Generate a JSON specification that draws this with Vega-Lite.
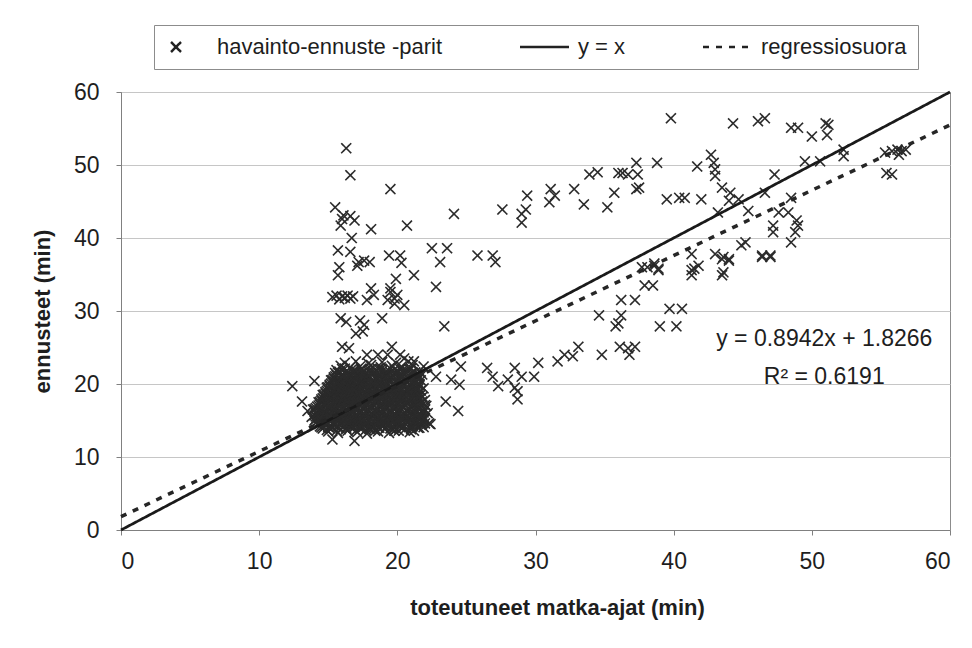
{
  "$schema": "https://vega.github.io/schema/vega-lite/v6.json",
  "width": 829,
  "height": 438,
  "autosize": {"type": "none"},
  "padding": {"left": 121, "top": 92, "right": 22, "bottom": 118},
  "background": "white",
  "config": {
    "font": "Liberation Sans",
    "view": {"stroke": "#8c8c8c", "strokeWidth": 1},
    "axis": {
      "labelFont": "Liberation Sans",
      "labelFontSize": 23,
      "labelColor": "#1e1e1e",
      "titleFont": "Liberation Sans",
      "titleFontSize": 22,
      "titleFontWeight": "bold",
      "titleColor": "#1e1e1e",
      "domainColor": "#808080",
      "tickColor": "#808080",
      "tickSize": 5,
      "gridColor": "#c6c6c6",
      "gridWidth": 1
    },
    "legend": {
      "orient": "none",
      "legendX": 33,
      "legendY": -67,
      "direction": "horizontal",
      "padding": 11,
      "strokeColor": "#8c8c8c",
      "fillColor": "white",
      "labelFont": "Liberation Sans",
      "labelFontSize": 22,
      "labelColor": "#1e1e1e",
      "labelLimit": 0,
      "labelOffset": 30,
      "columnPadding": 72,
      "symbolSize": 100,
      "symbolStrokeWidth": 2.5,
      "symbolStrokeColor": "#222222",
      "symbolFillColor": "transparent"
    }
  },
  "datasets": {
    "pairs": [
      {"x": 16.3, "y": 52.3}, {"x": 16.6, "y": 48.6}, {"x": 19.5, "y": 46.7}, {"x": 15.5, "y": 44.2},
      {"x": 16.1, "y": 43.1}, {"x": 16.6, "y": 43.0}, {"x": 16.9, "y": 42.4}, {"x": 15.9, "y": 41.7},
      {"x": 16.0, "y": 42.6}, {"x": 18.1, "y": 41.2}, {"x": 20.7, "y": 41.7}, {"x": 16.7, "y": 40.0},
      {"x": 15.7, "y": 38.3}, {"x": 16.6, "y": 38.1}, {"x": 17.2, "y": 36.7}, {"x": 17.6, "y": 36.9},
      {"x": 18.0, "y": 36.7}, {"x": 17.1, "y": 36.2}, {"x": 19.4, "y": 37.6}, {"x": 20.2, "y": 37.6},
      {"x": 20.3, "y": 36.6}, {"x": 15.8, "y": 36.0}, {"x": 15.7, "y": 34.9}, {"x": 19.9, "y": 34.4},
      {"x": 21.2, "y": 34.9}, {"x": 15.3, "y": 31.9}, {"x": 15.6, "y": 32.1}, {"x": 15.8, "y": 31.6},
      {"x": 16.0, "y": 32.0}, {"x": 16.2, "y": 31.8}, {"x": 16.4, "y": 32.1}, {"x": 16.6, "y": 31.7},
      {"x": 16.8, "y": 32.0}, {"x": 18.1, "y": 33.1}, {"x": 18.3, "y": 32.2}, {"x": 17.8, "y": 31.5},
      {"x": 19.5, "y": 33.1}, {"x": 19.5, "y": 32.6}, {"x": 20.0, "y": 32.2}, {"x": 19.3, "y": 31.5},
      {"x": 19.8, "y": 31.7}, {"x": 20.5, "y": 30.8}, {"x": 19.8, "y": 31.0}, {"x": 15.9, "y": 29.0},
      {"x": 16.3, "y": 28.5}, {"x": 17.3, "y": 28.7}, {"x": 17.6, "y": 28.1}, {"x": 17.0, "y": 26.9},
      {"x": 17.5, "y": 27.2}, {"x": 18.9, "y": 29.0}, {"x": 16.0, "y": 25.1}, {"x": 16.5, "y": 24.9},
      {"x": 17.8, "y": 24.0}, {"x": 18.6, "y": 24.0}, {"x": 19.3, "y": 24.0}, {"x": 19.6, "y": 25.1},
      {"x": 20.2, "y": 24.0}, {"x": 20.5, "y": 23.5}, {"x": 21.2, "y": 23.1}, {"x": 12.4, "y": 19.7},
      {"x": 14.0, "y": 20.4}, {"x": 13.1, "y": 17.6}, {"x": 13.5, "y": 16.3}, {"x": 15.3, "y": 12.4},
      {"x": 16.9, "y": 12.2}, {"x": 19.8, "y": 13.6}, {"x": 18.3, "y": 13.8}, {"x": 22.8, "y": 33.3},
      {"x": 22.5, "y": 38.6}, {"x": 23.6, "y": 38.6}, {"x": 23.1, "y": 36.7}, {"x": 25.8, "y": 37.6},
      {"x": 26.9, "y": 37.6}, {"x": 27.1, "y": 36.7}, {"x": 23.4, "y": 27.9}, {"x": 24.1, "y": 43.3},
      {"x": 27.6, "y": 43.9}, {"x": 29.0, "y": 43.3}, {"x": 29.0, "y": 42.1}, {"x": 29.3, "y": 43.9},
      {"x": 29.4, "y": 45.8}, {"x": 31.1, "y": 46.7}, {"x": 31.4, "y": 45.8}, {"x": 31.0, "y": 44.9},
      {"x": 32.8, "y": 46.7}, {"x": 33.5, "y": 44.6}, {"x": 33.9, "y": 48.7}, {"x": 34.5, "y": 49.0},
      {"x": 35.2, "y": 44.2}, {"x": 35.7, "y": 46.2}, {"x": 36.0, "y": 48.9}, {"x": 36.3, "y": 48.9},
      {"x": 36.7, "y": 48.7}, {"x": 37.3, "y": 50.3}, {"x": 37.4, "y": 48.7}, {"x": 37.3, "y": 46.7},
      {"x": 37.5, "y": 46.9}, {"x": 38.8, "y": 50.3}, {"x": 39.5, "y": 45.3}, {"x": 40.4, "y": 45.5},
      {"x": 39.8, "y": 56.4}, {"x": 21.9, "y": 22.4}, {"x": 22.8, "y": 21.0}, {"x": 23.9, "y": 20.6},
      {"x": 24.6, "y": 22.4}, {"x": 24.5, "y": 19.9}, {"x": 23.5, "y": 17.6}, {"x": 24.4, "y": 16.3},
      {"x": 22.4, "y": 14.5}, {"x": 26.5, "y": 22.2}, {"x": 26.9, "y": 21.0}, {"x": 27.3, "y": 19.7},
      {"x": 28.0, "y": 20.6}, {"x": 28.5, "y": 22.2}, {"x": 28.7, "y": 19.0}, {"x": 29.0, "y": 21.0},
      {"x": 28.5, "y": 19.5}, {"x": 29.9, "y": 21.0}, {"x": 30.2, "y": 22.9}, {"x": 28.7, "y": 17.9},
      {"x": 31.6, "y": 23.1}, {"x": 32.1, "y": 24.0}, {"x": 32.7, "y": 23.8}, {"x": 33.1, "y": 25.1},
      {"x": 34.8, "y": 24.0}, {"x": 36.1, "y": 25.1}, {"x": 36.7, "y": 24.9}, {"x": 37.2, "y": 25.1},
      {"x": 36.8, "y": 24.0}, {"x": 34.6, "y": 29.4}, {"x": 36.2, "y": 29.4}, {"x": 35.8, "y": 27.9},
      {"x": 36.0, "y": 28.3}, {"x": 36.2, "y": 31.5}, {"x": 37.2, "y": 31.5}, {"x": 39.0, "y": 27.9},
      {"x": 40.2, "y": 27.9}, {"x": 39.7, "y": 30.3}, {"x": 40.6, "y": 30.3}, {"x": 37.9, "y": 33.5},
      {"x": 38.5, "y": 33.5}, {"x": 37.7, "y": 36.0}, {"x": 38.6, "y": 36.5}, {"x": 38.9, "y": 35.6},
      {"x": 38.1, "y": 36.0}, {"x": 38.6, "y": 36.2}, {"x": 38.9, "y": 35.8}, {"x": 44.3, "y": 55.7},
      {"x": 46.1, "y": 56.0}, {"x": 46.6, "y": 56.4}, {"x": 48.5, "y": 55.1}, {"x": 49.0, "y": 55.1},
      {"x": 50.0, "y": 53.9}, {"x": 51.0, "y": 55.7}, {"x": 51.2, "y": 55.5}, {"x": 51.1, "y": 54.1},
      {"x": 52.3, "y": 52.1}, {"x": 52.3, "y": 51.2}, {"x": 49.5, "y": 50.5}, {"x": 50.6, "y": 50.5},
      {"x": 55.3, "y": 51.7}, {"x": 55.8, "y": 51.9}, {"x": 56.2, "y": 52.1}, {"x": 56.5, "y": 51.9},
      {"x": 56.8, "y": 52.1}, {"x": 56.3, "y": 51.4}, {"x": 55.4, "y": 48.9}, {"x": 55.8, "y": 48.7},
      {"x": 41.7, "y": 49.8}, {"x": 42.7, "y": 51.4}, {"x": 42.9, "y": 50.3}, {"x": 43.0, "y": 49.4},
      {"x": 43.0, "y": 48.5}, {"x": 40.8, "y": 45.5}, {"x": 42.0, "y": 45.3}, {"x": 43.5, "y": 46.9},
      {"x": 44.1, "y": 46.2}, {"x": 44.7, "y": 45.3}, {"x": 44.0, "y": 45.1}, {"x": 43.2, "y": 43.5},
      {"x": 45.4, "y": 43.7}, {"x": 46.6, "y": 46.2}, {"x": 47.3, "y": 48.7}, {"x": 48.5, "y": 45.5},
      {"x": 47.6, "y": 43.5}, {"x": 48.3, "y": 43.5}, {"x": 48.9, "y": 42.4}, {"x": 49.0, "y": 41.7},
      {"x": 48.8, "y": 40.8}, {"x": 48.5, "y": 39.4}, {"x": 47.2, "y": 41.7}, {"x": 47.2, "y": 40.8},
      {"x": 45.2, "y": 39.4}, {"x": 44.9, "y": 39.0}, {"x": 43.0, "y": 37.8}, {"x": 43.5, "y": 37.1},
      {"x": 44.0, "y": 37.1}, {"x": 46.4, "y": 37.6}, {"x": 47.0, "y": 37.6}, {"x": 41.3, "y": 37.8},
      {"x": 41.8, "y": 36.2}, {"x": 41.3, "y": 35.6}, {"x": 43.6, "y": 35.3}, {"x": 41.5, "y": 35.8},
      {"x": 41.3, "y": 34.9}, {"x": 43.6, "y": 37.4}, {"x": 44.0, "y": 36.9}, {"x": 43.5, "y": 34.9},
      {"x": 46.4, "y": 37.4}, {"x": 47.0, "y": 37.4},
      {"x": 15.0, "y": 13.5}, {"x": 15.7, "y": 13.3}, {"x": 16.4, "y": 13.6}, {"x": 17.1, "y": 13.4},
      {"x": 17.8, "y": 13.2}, {"x": 18.6, "y": 13.5}, {"x": 19.4, "y": 13.3}, {"x": 20.1, "y": 13.6},
      {"x": 20.9, "y": 13.4},
      {"x": 14.9, "y": 13.7}, {"x": 15.6, "y": 13.6}, {"x": 16.3, "y": 13.8}, {"x": 17.0, "y": 13.6},
      {"x": 17.7, "y": 13.7}, {"x": 18.4, "y": 13.6}, {"x": 19.1, "y": 13.8}, {"x": 19.8, "y": 13.6},
      {"x": 20.5, "y": 13.7}, {"x": 21.2, "y": 13.6},
      {"x": 14.6, "y": 13.9}, {"x": 15.3, "y": 14.0}, {"x": 15.9, "y": 13.8}, {"x": 16.6, "y": 14.1},
      {"x": 17.3, "y": 13.9}, {"x": 18.0, "y": 13.8}, {"x": 18.7, "y": 14.0}, {"x": 19.5, "y": 13.9},
      {"x": 20.2, "y": 14.1}, {"x": 21.0, "y": 13.8}, {"x": 21.6, "y": 14.0},
      {"x": 14.5, "y": 14.05}, {"x": 15.1, "y": 14.0}, {"x": 15.7, "y": 14.1}, {"x": 16.3, "y": 14.0},
      {"x": 16.8, "y": 14.05}, {"x": 17.4, "y": 14.1}, {"x": 18.0, "y": 14.0}, {"x": 18.6, "y": 14.05},
      {"x": 19.2, "y": 14.1}, {"x": 19.8, "y": 14.0}, {"x": 20.4, "y": 14.05}, {"x": 21.0, "y": 14.1},
      {"x": 21.5, "y": 14.0},
      {"x": 14.4, "y": 14.2}, {"x": 15.0, "y": 14.1}, {"x": 15.6, "y": 14.2}, {"x": 16.2, "y": 14.3},
      {"x": 16.9, "y": 14.1}, {"x": 17.6, "y": 14.2}, {"x": 18.3, "y": 14.1}, {"x": 19.0, "y": 14.3},
      {"x": 19.7, "y": 14.2}, {"x": 20.4, "y": 14.1}, {"x": 21.1, "y": 14.2}, {"x": 21.9, "y": 14.1},
      {"x": 14.2, "y": 14.5}, {"x": 14.8, "y": 14.3}, {"x": 15.4, "y": 14.4}, {"x": 15.9, "y": 14.6},
      {"x": 16.5, "y": 14.3}, {"x": 17.0, "y": 14.5}, {"x": 17.6, "y": 14.4}, {"x": 18.2, "y": 14.2},
      {"x": 18.8, "y": 14.5}, {"x": 19.3, "y": 14.4}, {"x": 19.9, "y": 14.6}, {"x": 20.5, "y": 14.3},
      {"x": 21.1, "y": 14.5}, {"x": 21.7, "y": 14.4}, {"x": 22.3, "y": 14.6},
      {"x": 14.3, "y": 14.55}, {"x": 14.8, "y": 14.5}, {"x": 15.3, "y": 14.6}, {"x": 15.8, "y": 14.5},
      {"x": 16.3, "y": 14.55}, {"x": 16.8, "y": 14.6}, {"x": 17.3, "y": 14.5}, {"x": 17.8, "y": 14.55},
      {"x": 18.4, "y": 14.6}, {"x": 18.9, "y": 14.5}, {"x": 19.4, "y": 14.55}, {"x": 20.0, "y": 14.6},
      {"x": 20.6, "y": 14.5}, {"x": 21.2, "y": 14.55}, {"x": 21.8, "y": 14.6},
      {"x": 14.4, "y": 14.7}, {"x": 14.9, "y": 14.6}, {"x": 15.4, "y": 14.8}, {"x": 15.9, "y": 14.7},
      {"x": 16.5, "y": 14.6}, {"x": 17.0, "y": 14.8}, {"x": 17.5, "y": 14.6}, {"x": 18.1, "y": 14.7},
      {"x": 18.6, "y": 14.8}, {"x": 19.1, "y": 14.6}, {"x": 19.7, "y": 14.7}, {"x": 20.2, "y": 14.6},
      {"x": 20.8, "y": 14.8}, {"x": 21.4, "y": 14.7}, {"x": 22.0, "y": 14.6},
      {"x": 14.0, "y": 15.0}, {"x": 14.5, "y": 14.8}, {"x": 15.1, "y": 14.9}, {"x": 15.6, "y": 15.1},
      {"x": 16.1, "y": 14.8}, {"x": 16.7, "y": 15.0}, {"x": 17.2, "y": 14.9}, {"x": 17.8, "y": 14.7},
      {"x": 18.3, "y": 15.0}, {"x": 18.9, "y": 14.9}, {"x": 19.4, "y": 15.1}, {"x": 20.0, "y": 14.8},
      {"x": 20.6, "y": 15.0}, {"x": 21.2, "y": 14.9}, {"x": 21.8, "y": 15.1},
      {"x": 14.3, "y": 15.05}, {"x": 14.8, "y": 15.0}, {"x": 15.3, "y": 15.1}, {"x": 15.8, "y": 15.0},
      {"x": 16.3, "y": 15.05}, {"x": 16.8, "y": 15.1}, {"x": 17.3, "y": 15.0}, {"x": 17.9, "y": 15.05},
      {"x": 18.4, "y": 15.1}, {"x": 19.0, "y": 15.0}, {"x": 19.5, "y": 15.05}, {"x": 20.1, "y": 15.1},
      {"x": 20.7, "y": 15.0}, {"x": 21.3, "y": 15.05}, {"x": 21.9, "y": 15.1},
      {"x": 14.1, "y": 15.2}, {"x": 14.6, "y": 15.1}, {"x": 15.1, "y": 15.3}, {"x": 15.6, "y": 15.2},
      {"x": 16.1, "y": 15.1}, {"x": 16.6, "y": 15.3}, {"x": 17.1, "y": 15.1}, {"x": 17.6, "y": 15.2},
      {"x": 18.1, "y": 15.3}, {"x": 18.7, "y": 15.1}, {"x": 19.2, "y": 15.2}, {"x": 19.8, "y": 15.1},
      {"x": 20.4, "y": 15.3}, {"x": 21.0, "y": 15.2}, {"x": 21.6, "y": 15.1},
      {"x": 13.8, "y": 15.5}, {"x": 14.3, "y": 15.3}, {"x": 14.8, "y": 15.4}, {"x": 15.3, "y": 15.6},
      {"x": 15.8, "y": 15.3}, {"x": 16.3, "y": 15.5}, {"x": 16.9, "y": 15.4}, {"x": 17.4, "y": 15.2},
      {"x": 17.9, "y": 15.5}, {"x": 18.5, "y": 15.4}, {"x": 19.1, "y": 15.6}, {"x": 19.6, "y": 15.3},
      {"x": 20.2, "y": 15.5}, {"x": 20.8, "y": 15.4}, {"x": 21.4, "y": 15.6}, {"x": 22.0, "y": 15.3},
      {"x": 14.1, "y": 15.55}, {"x": 14.6, "y": 15.5}, {"x": 15.1, "y": 15.6}, {"x": 15.6, "y": 15.5},
      {"x": 16.1, "y": 15.55}, {"x": 16.7, "y": 15.6}, {"x": 17.2, "y": 15.5}, {"x": 17.7, "y": 15.55},
      {"x": 18.3, "y": 15.6}, {"x": 18.8, "y": 15.5}, {"x": 19.4, "y": 15.55}, {"x": 20.0, "y": 15.6},
      {"x": 20.6, "y": 15.5}, {"x": 21.2, "y": 15.55}, {"x": 21.8, "y": 15.6},
      {"x": 14.0, "y": 15.7}, {"x": 14.5, "y": 15.6}, {"x": 15.0, "y": 15.8}, {"x": 15.5, "y": 15.7},
      {"x": 16.0, "y": 15.6}, {"x": 16.6, "y": 15.8}, {"x": 17.1, "y": 15.6}, {"x": 17.6, "y": 15.7},
      {"x": 18.2, "y": 15.8}, {"x": 18.7, "y": 15.6}, {"x": 19.3, "y": 15.7}, {"x": 19.9, "y": 15.6},
      {"x": 20.5, "y": 15.8}, {"x": 21.1, "y": 15.7}, {"x": 21.7, "y": 15.6},
      {"x": 14.1, "y": 15.9}, {"x": 14.6, "y": 16.1}, {"x": 15.1, "y": 15.8}, {"x": 15.6, "y": 16.0},
      {"x": 16.0, "y": 15.9}, {"x": 16.5, "y": 16.1}, {"x": 17.0, "y": 15.8}, {"x": 17.6, "y": 16.0},
      {"x": 18.1, "y": 15.9}, {"x": 18.7, "y": 16.1}, {"x": 19.2, "y": 15.8}, {"x": 19.8, "y": 16.0},
      {"x": 20.4, "y": 15.9}, {"x": 21.0, "y": 16.1}, {"x": 21.6, "y": 15.8}, {"x": 22.2, "y": 16.0},
      {"x": 14.2, "y": 16.05}, {"x": 14.7, "y": 16.0}, {"x": 15.2, "y": 16.1}, {"x": 15.7, "y": 16.0},
      {"x": 16.2, "y": 16.05}, {"x": 16.7, "y": 16.1}, {"x": 17.2, "y": 16.0}, {"x": 17.8, "y": 16.05},
      {"x": 18.3, "y": 16.1}, {"x": 18.9, "y": 16.0}, {"x": 19.4, "y": 16.05}, {"x": 20.0, "y": 16.1},
      {"x": 20.6, "y": 16.0}, {"x": 21.2, "y": 16.05}, {"x": 21.8, "y": 16.1},
      {"x": 14.3, "y": 16.2}, {"x": 14.8, "y": 16.1}, {"x": 15.3, "y": 16.3}, {"x": 15.8, "y": 16.2},
      {"x": 16.3, "y": 16.1}, {"x": 16.8, "y": 16.3}, {"x": 17.3, "y": 16.1}, {"x": 17.8, "y": 16.2},
      {"x": 18.4, "y": 16.3}, {"x": 18.9, "y": 16.1}, {"x": 19.5, "y": 16.2}, {"x": 20.1, "y": 16.1},
      {"x": 20.7, "y": 16.3}, {"x": 21.3, "y": 16.2}, {"x": 21.9, "y": 16.1},
      {"x": 13.9, "y": 16.5}, {"x": 14.4, "y": 16.3}, {"x": 14.9, "y": 16.4}, {"x": 15.4, "y": 16.6},
      {"x": 15.9, "y": 16.3}, {"x": 16.3, "y": 16.5}, {"x": 16.8, "y": 16.4}, {"x": 17.3, "y": 16.2},
      {"x": 17.9, "y": 16.5}, {"x": 18.4, "y": 16.4}, {"x": 18.9, "y": 16.6}, {"x": 19.5, "y": 16.3},
      {"x": 20.1, "y": 16.5}, {"x": 20.7, "y": 16.4}, {"x": 21.3, "y": 16.6}, {"x": 21.9, "y": 16.3},
      {"x": 14.0, "y": 16.55}, {"x": 14.5, "y": 16.5}, {"x": 15.0, "y": 16.6}, {"x": 15.5, "y": 16.5},
      {"x": 16.0, "y": 16.55}, {"x": 16.5, "y": 16.6}, {"x": 17.0, "y": 16.5}, {"x": 17.5, "y": 16.55},
      {"x": 18.0, "y": 16.6}, {"x": 18.6, "y": 16.5}, {"x": 19.1, "y": 16.55}, {"x": 19.7, "y": 16.6},
      {"x": 20.3, "y": 16.5}, {"x": 20.9, "y": 16.55}, {"x": 21.5, "y": 16.6}, {"x": 22.0, "y": 16.5},
      {"x": 14.1, "y": 16.7}, {"x": 14.6, "y": 16.6}, {"x": 15.1, "y": 16.8}, {"x": 15.6, "y": 16.7},
      {"x": 16.1, "y": 16.6}, {"x": 16.6, "y": 16.8}, {"x": 17.1, "y": 16.6}, {"x": 17.6, "y": 16.7},
      {"x": 18.1, "y": 16.8}, {"x": 18.6, "y": 16.6}, {"x": 19.2, "y": 16.7}, {"x": 19.8, "y": 16.6},
      {"x": 20.4, "y": 16.8}, {"x": 21.0, "y": 16.7}, {"x": 21.6, "y": 16.6},
      {"x": 14.2, "y": 16.9}, {"x": 14.7, "y": 17.1}, {"x": 15.2, "y": 16.8}, {"x": 15.7, "y": 17.0},
      {"x": 16.1, "y": 16.9}, {"x": 16.6, "y": 17.1}, {"x": 17.1, "y": 16.8}, {"x": 17.6, "y": 17.0},
      {"x": 18.2, "y": 16.9}, {"x": 18.7, "y": 17.1}, {"x": 19.3, "y": 16.8}, {"x": 19.8, "y": 17.0},
      {"x": 20.4, "y": 16.9}, {"x": 21.0, "y": 17.1}, {"x": 21.6, "y": 16.8}, {"x": 22.1, "y": 17.0},
      {"x": 14.3, "y": 17.05}, {"x": 14.8, "y": 17.0}, {"x": 15.3, "y": 17.1}, {"x": 15.8, "y": 17.0},
      {"x": 16.3, "y": 17.05}, {"x": 16.8, "y": 17.1}, {"x": 17.3, "y": 17.0}, {"x": 17.8, "y": 17.05},
      {"x": 18.3, "y": 17.1}, {"x": 18.9, "y": 17.0}, {"x": 19.4, "y": 17.05}, {"x": 20.0, "y": 17.1},
      {"x": 20.6, "y": 17.0}, {"x": 21.2, "y": 17.05}, {"x": 21.8, "y": 17.1},
      {"x": 14.4, "y": 17.2}, {"x": 14.9, "y": 17.1}, {"x": 15.4, "y": 17.3}, {"x": 15.9, "y": 17.2},
      {"x": 16.4, "y": 17.1}, {"x": 16.9, "y": 17.3}, {"x": 17.4, "y": 17.1}, {"x": 17.9, "y": 17.2},
      {"x": 18.5, "y": 17.3}, {"x": 19.0, "y": 17.1}, {"x": 19.6, "y": 17.2}, {"x": 20.2, "y": 17.1},
      {"x": 20.8, "y": 17.3}, {"x": 21.4, "y": 17.2}, {"x": 22.0, "y": 17.1},
      {"x": 14.3, "y": 17.5}, {"x": 14.8, "y": 17.3}, {"x": 15.3, "y": 17.4}, {"x": 15.8, "y": 17.6},
      {"x": 16.2, "y": 17.3}, {"x": 16.7, "y": 17.5}, {"x": 17.2, "y": 17.4}, {"x": 17.8, "y": 17.2},
      {"x": 18.3, "y": 17.5}, {"x": 18.9, "y": 17.4}, {"x": 19.4, "y": 17.6}, {"x": 20.0, "y": 17.3},
      {"x": 20.6, "y": 17.5}, {"x": 21.2, "y": 17.4}, {"x": 21.8, "y": 17.6},
      {"x": 14.4, "y": 17.55}, {"x": 14.9, "y": 17.5}, {"x": 15.4, "y": 17.6}, {"x": 15.9, "y": 17.5},
      {"x": 16.4, "y": 17.55}, {"x": 16.9, "y": 17.6}, {"x": 17.4, "y": 17.5}, {"x": 17.9, "y": 17.55},
      {"x": 18.5, "y": 17.6}, {"x": 19.0, "y": 17.5}, {"x": 19.6, "y": 17.55}, {"x": 20.2, "y": 17.6},
      {"x": 20.8, "y": 17.5}, {"x": 21.4, "y": 17.55},
      {"x": 14.5, "y": 17.7}, {"x": 15.0, "y": 17.6}, {"x": 15.5, "y": 17.8}, {"x": 16.0, "y": 17.7},
      {"x": 16.5, "y": 17.6}, {"x": 17.0, "y": 17.8}, {"x": 17.5, "y": 17.6}, {"x": 18.0, "y": 17.7},
      {"x": 18.6, "y": 17.8}, {"x": 19.1, "y": 17.6}, {"x": 19.7, "y": 17.7}, {"x": 20.3, "y": 17.6},
      {"x": 20.9, "y": 17.8}, {"x": 21.5, "y": 17.7},
      {"x": 14.5, "y": 17.9}, {"x": 15.0, "y": 18.1}, {"x": 15.5, "y": 17.8}, {"x": 15.9, "y": 18.0},
      {"x": 16.4, "y": 17.9}, {"x": 16.9, "y": 18.1}, {"x": 17.4, "y": 17.8}, {"x": 17.9, "y": 18.0},
      {"x": 18.5, "y": 17.9}, {"x": 19.0, "y": 18.1}, {"x": 19.6, "y": 17.8}, {"x": 20.2, "y": 18.0},
      {"x": 20.8, "y": 17.9}, {"x": 21.4, "y": 18.1}, {"x": 22.0, "y": 17.8},
      {"x": 14.6, "y": 18.05}, {"x": 15.1, "y": 18.0}, {"x": 15.6, "y": 18.1}, {"x": 16.1, "y": 18.0},
      {"x": 16.6, "y": 18.05}, {"x": 17.1, "y": 18.1}, {"x": 17.6, "y": 18.0}, {"x": 18.1, "y": 18.05},
      {"x": 18.7, "y": 18.1}, {"x": 19.2, "y": 18.0}, {"x": 19.8, "y": 18.05}, {"x": 20.4, "y": 18.1},
      {"x": 21.0, "y": 18.0}, {"x": 21.6, "y": 18.05},
      {"x": 14.7, "y": 18.2}, {"x": 15.2, "y": 18.1}, {"x": 15.7, "y": 18.3}, {"x": 16.2, "y": 18.2},
      {"x": 16.7, "y": 18.1}, {"x": 17.2, "y": 18.3}, {"x": 17.7, "y": 18.1}, {"x": 18.3, "y": 18.2},
      {"x": 18.8, "y": 18.3}, {"x": 19.4, "y": 18.1}, {"x": 20.0, "y": 18.2}, {"x": 20.6, "y": 18.1},
      {"x": 21.2, "y": 18.3}, {"x": 21.8, "y": 18.2},
      {"x": 14.6, "y": 18.5}, {"x": 15.1, "y": 18.3}, {"x": 15.6, "y": 18.4}, {"x": 16.1, "y": 18.6},
      {"x": 16.5, "y": 18.3}, {"x": 17.0, "y": 18.5}, {"x": 17.5, "y": 18.4}, {"x": 18.1, "y": 18.2},
      {"x": 18.6, "y": 18.5}, {"x": 19.2, "y": 18.4}, {"x": 19.7, "y": 18.6}, {"x": 20.3, "y": 18.3},
      {"x": 20.9, "y": 18.5}, {"x": 21.5, "y": 18.4},
      {"x": 14.7, "y": 18.55}, {"x": 15.2, "y": 18.5}, {"x": 15.7, "y": 18.6}, {"x": 16.2, "y": 18.5},
      {"x": 16.7, "y": 18.55}, {"x": 17.2, "y": 18.6}, {"x": 17.7, "y": 18.5}, {"x": 18.2, "y": 18.55},
      {"x": 18.8, "y": 18.6}, {"x": 19.3, "y": 18.5}, {"x": 19.9, "y": 18.55}, {"x": 20.5, "y": 18.6},
      {"x": 21.1, "y": 18.5}, {"x": 21.7, "y": 18.55},
      {"x": 14.8, "y": 18.7}, {"x": 15.3, "y": 18.6}, {"x": 15.8, "y": 18.8}, {"x": 16.3, "y": 18.7},
      {"x": 16.8, "y": 18.6}, {"x": 17.3, "y": 18.8}, {"x": 17.8, "y": 18.6}, {"x": 18.4, "y": 18.7},
      {"x": 18.9, "y": 18.8}, {"x": 19.5, "y": 18.6}, {"x": 20.1, "y": 18.7}, {"x": 20.7, "y": 18.6},
      {"x": 21.3, "y": 18.8},
      {"x": 14.8, "y": 18.9}, {"x": 15.3, "y": 19.1}, {"x": 15.7, "y": 18.8}, {"x": 16.2, "y": 19.0},
      {"x": 16.7, "y": 18.9}, {"x": 17.2, "y": 19.1}, {"x": 17.7, "y": 18.8}, {"x": 18.2, "y": 19.0},
      {"x": 18.8, "y": 18.9}, {"x": 19.3, "y": 19.1}, {"x": 19.9, "y": 18.8}, {"x": 20.5, "y": 19.0},
      {"x": 21.1, "y": 18.9}, {"x": 21.7, "y": 19.1},
      {"x": 14.9, "y": 19.05}, {"x": 15.4, "y": 19.0}, {"x": 15.9, "y": 19.1}, {"x": 16.4, "y": 19.0},
      {"x": 16.9, "y": 19.05}, {"x": 17.4, "y": 19.1}, {"x": 17.9, "y": 19.0}, {"x": 18.4, "y": 19.05},
      {"x": 19.0, "y": 19.1}, {"x": 19.5, "y": 19.0}, {"x": 20.1, "y": 19.05}, {"x": 20.7, "y": 19.1},
      {"x": 21.3, "y": 19.0},
      {"x": 15.0, "y": 19.2}, {"x": 15.5, "y": 19.1}, {"x": 16.0, "y": 19.3}, {"x": 16.5, "y": 19.2},
      {"x": 17.0, "y": 19.1}, {"x": 17.5, "y": 19.3}, {"x": 18.0, "y": 19.1}, {"x": 18.5, "y": 19.2},
      {"x": 19.1, "y": 19.3}, {"x": 19.7, "y": 19.1}, {"x": 20.3, "y": 19.2}, {"x": 20.9, "y": 19.1},
      {"x": 21.5, "y": 19.3},
      {"x": 14.9, "y": 19.5}, {"x": 15.4, "y": 19.3}, {"x": 15.9, "y": 19.4}, {"x": 16.4, "y": 19.6},
      {"x": 16.8, "y": 19.3}, {"x": 17.3, "y": 19.5}, {"x": 17.9, "y": 19.4}, {"x": 18.4, "y": 19.2},
      {"x": 18.9, "y": 19.5}, {"x": 19.5, "y": 19.4}, {"x": 20.1, "y": 19.6}, {"x": 20.7, "y": 19.3},
      {"x": 21.3, "y": 19.5}, {"x": 21.9, "y": 19.4},
      {"x": 15.0, "y": 19.55}, {"x": 15.5, "y": 19.5}, {"x": 16.0, "y": 19.6}, {"x": 16.5, "y": 19.5},
      {"x": 17.0, "y": 19.55}, {"x": 17.5, "y": 19.6}, {"x": 18.0, "y": 19.5}, {"x": 18.5, "y": 19.55},
      {"x": 19.1, "y": 19.6}, {"x": 19.6, "y": 19.5}, {"x": 20.2, "y": 19.55}, {"x": 20.8, "y": 19.6},
      {"x": 21.4, "y": 19.5},
      {"x": 15.1, "y": 19.7}, {"x": 15.6, "y": 19.6}, {"x": 16.1, "y": 19.8}, {"x": 16.6, "y": 19.7},
      {"x": 17.1, "y": 19.6}, {"x": 17.6, "y": 19.8}, {"x": 18.1, "y": 19.6}, {"x": 18.7, "y": 19.7},
      {"x": 19.2, "y": 19.8}, {"x": 19.8, "y": 19.6}, {"x": 20.4, "y": 19.7}, {"x": 21.0, "y": 19.6},
      {"x": 21.6, "y": 19.8},
      {"x": 15.1, "y": 19.9}, {"x": 15.6, "y": 20.1}, {"x": 16.0, "y": 19.8}, {"x": 16.5, "y": 20.0},
      {"x": 17.0, "y": 19.9}, {"x": 17.5, "y": 20.1}, {"x": 18.0, "y": 19.8}, {"x": 18.6, "y": 20.0},
      {"x": 19.1, "y": 19.9}, {"x": 19.7, "y": 20.1}, {"x": 20.3, "y": 19.8}, {"x": 20.9, "y": 20.0},
      {"x": 21.5, "y": 19.9},
      {"x": 15.2, "y": 20.05}, {"x": 15.7, "y": 20.0}, {"x": 16.2, "y": 20.1}, {"x": 16.7, "y": 20.0},
      {"x": 17.2, "y": 20.05}, {"x": 17.7, "y": 20.1}, {"x": 18.2, "y": 20.0}, {"x": 18.7, "y": 20.05},
      {"x": 19.3, "y": 20.1}, {"x": 19.8, "y": 20.0}, {"x": 20.4, "y": 20.05}, {"x": 21.0, "y": 20.1},
      {"x": 21.6, "y": 20.0},
      {"x": 15.3, "y": 20.2}, {"x": 15.8, "y": 20.1}, {"x": 16.3, "y": 20.3}, {"x": 16.8, "y": 20.2},
      {"x": 17.3, "y": 20.1}, {"x": 17.8, "y": 20.3}, {"x": 18.3, "y": 20.1}, {"x": 18.9, "y": 20.2},
      {"x": 19.5, "y": 20.3}, {"x": 20.1, "y": 20.1}, {"x": 20.7, "y": 20.2}, {"x": 21.3, "y": 20.1},
      {"x": 15.2, "y": 20.5}, {"x": 15.7, "y": 20.3}, {"x": 16.2, "y": 20.4}, {"x": 16.7, "y": 20.6},
      {"x": 17.2, "y": 20.3}, {"x": 17.7, "y": 20.5}, {"x": 18.2, "y": 20.4}, {"x": 18.7, "y": 20.2},
      {"x": 19.3, "y": 20.5}, {"x": 19.9, "y": 20.4}, {"x": 20.5, "y": 20.6}, {"x": 21.1, "y": 20.3},
      {"x": 21.7, "y": 20.5},
      {"x": 15.3, "y": 20.55}, {"x": 15.8, "y": 20.5}, {"x": 16.3, "y": 20.6}, {"x": 16.8, "y": 20.5},
      {"x": 17.3, "y": 20.55}, {"x": 17.8, "y": 20.6}, {"x": 18.3, "y": 20.5}, {"x": 18.9, "y": 20.55},
      {"x": 19.4, "y": 20.6}, {"x": 20.0, "y": 20.5}, {"x": 20.6, "y": 20.55}, {"x": 21.2, "y": 20.6},
      {"x": 15.4, "y": 20.7}, {"x": 15.9, "y": 20.6}, {"x": 16.4, "y": 20.8}, {"x": 16.9, "y": 20.7},
      {"x": 17.4, "y": 20.6}, {"x": 17.9, "y": 20.8}, {"x": 18.5, "y": 20.6}, {"x": 19.0, "y": 20.7},
      {"x": 19.6, "y": 20.8}, {"x": 20.2, "y": 20.6}, {"x": 20.8, "y": 20.7}, {"x": 21.5, "y": 20.6},
      {"x": 15.4, "y": 20.9}, {"x": 15.9, "y": 21.1}, {"x": 16.3, "y": 20.8}, {"x": 16.8, "y": 21.0},
      {"x": 17.3, "y": 20.9}, {"x": 17.9, "y": 21.1}, {"x": 18.4, "y": 20.8}, {"x": 18.9, "y": 21.0},
      {"x": 19.5, "y": 20.9}, {"x": 20.1, "y": 21.1}, {"x": 20.7, "y": 20.8}, {"x": 21.3, "y": 21.0},
      {"x": 15.5, "y": 21.05}, {"x": 16.0, "y": 21.0}, {"x": 16.5, "y": 21.1}, {"x": 17.0, "y": 21.0},
      {"x": 17.5, "y": 21.05}, {"x": 18.0, "y": 21.1}, {"x": 18.5, "y": 21.0}, {"x": 19.1, "y": 21.05},
      {"x": 19.7, "y": 21.1}, {"x": 20.3, "y": 21.0}, {"x": 20.9, "y": 21.05}, {"x": 21.5, "y": 21.1},
      {"x": 15.6, "y": 21.2}, {"x": 16.1, "y": 21.1}, {"x": 16.6, "y": 21.3}, {"x": 17.1, "y": 21.2},
      {"x": 17.6, "y": 21.1}, {"x": 18.2, "y": 21.3}, {"x": 18.7, "y": 21.1}, {"x": 19.2, "y": 21.2},
      {"x": 19.8, "y": 21.3}, {"x": 20.4, "y": 21.1}, {"x": 21.0, "y": 21.2}, {"x": 21.6, "y": 21.1},
      {"x": 15.5, "y": 21.5}, {"x": 16.0, "y": 21.3}, {"x": 16.5, "y": 21.4}, {"x": 17.0, "y": 21.6},
      {"x": 17.6, "y": 21.3}, {"x": 18.1, "y": 21.5}, {"x": 18.7, "y": 21.4}, {"x": 19.3, "y": 21.2},
      {"x": 19.9, "y": 21.5}, {"x": 20.5, "y": 21.4}, {"x": 21.1, "y": 21.6}, {"x": 21.8, "y": 21.3},
      {"x": 15.7, "y": 21.55}, {"x": 16.2, "y": 21.5}, {"x": 16.8, "y": 21.6}, {"x": 17.4, "y": 21.5},
      {"x": 18.0, "y": 21.55}, {"x": 18.6, "y": 21.6}, {"x": 19.2, "y": 21.5}, {"x": 19.8, "y": 21.55},
      {"x": 20.4, "y": 21.6}, {"x": 21.0, "y": 21.5},
      {"x": 15.8, "y": 21.7}, {"x": 16.4, "y": 21.6}, {"x": 17.0, "y": 21.8}, {"x": 17.6, "y": 21.7},
      {"x": 18.3, "y": 21.6}, {"x": 18.9, "y": 21.8}, {"x": 19.5, "y": 21.6}, {"x": 20.1, "y": 21.7},
      {"x": 20.7, "y": 21.8}, {"x": 21.3, "y": 21.6},
      {"x": 15.6, "y": 21.9}, {"x": 16.2, "y": 22.1}, {"x": 16.8, "y": 21.8}, {"x": 17.4, "y": 22.0},
      {"x": 18.0, "y": 21.9}, {"x": 18.6, "y": 22.1}, {"x": 19.2, "y": 21.8}, {"x": 19.8, "y": 22.0},
      {"x": 20.4, "y": 21.9}, {"x": 21.0, "y": 22.1}, {"x": 21.6, "y": 21.8},
      {"x": 16.0, "y": 22.05}, {"x": 16.7, "y": 22.0}, {"x": 17.4, "y": 22.1}, {"x": 18.1, "y": 22.05},
      {"x": 18.8, "y": 22.0}, {"x": 19.5, "y": 22.1}, {"x": 20.2, "y": 22.05}, {"x": 20.9, "y": 22.0},
      {"x": 15.9, "y": 22.5}, {"x": 16.6, "y": 22.3}, {"x": 17.3, "y": 22.4}, {"x": 18.1, "y": 22.6},
      {"x": 18.8, "y": 22.3}, {"x": 19.6, "y": 22.5}, {"x": 20.3, "y": 22.4}, {"x": 21.1, "y": 22.6},
      {"x": 16.2, "y": 22.9}, {"x": 17.0, "y": 23.1}, {"x": 17.9, "y": 22.8}, {"x": 18.9, "y": 23.0},
      {"x": 19.9, "y": 22.9}, {"x": 20.8, "y": 23.1}
    ],
    "identity": [{"x": 0, "y": 0}, {"x": 60, "y": 60}],
    "fit": [{"x": 0, "y": 1.8266}, {"x": 60, "y": 55.4786}],
    "fitLabel": [
      {"x": 50.9, "y": 26.1, "t": "y = 0.8942x + 1.8266"},
      {"x": 50.9, "y": 21.0, "t": "R² = 0.6191"}
    ]
  },
  "encoding": {
    "x": {
      "field": "x",
      "type": "quantitative",
      "scale": {"domain": [0, 60], "nice": false},
      "axis": {
        "values": [0, 10, 20, 30, 40, 50, 60],
        "grid": false,
        "labelPadding": 15,
        "title": "toteutuneet matka-ajat (min)",
        "titlePadding": 24,
        "titleX": 436,
        "titleAlign": "center"
      }
    },
    "y": {
      "field": "y",
      "type": "quantitative",
      "scale": {"domain": [0, 60], "nice": false},
      "axis": {
        "values": [0, 10, 20, 30, 40, 50, 60],
        "grid": true,
        "labelPadding": 17,
        "title": "ennusteet (min)",
        "titlePadding": 19
      }
    }
  },
  "layer": [
    {
      "data": {"name": "pairs"},
      "mark": {"type": "point", "filled": false, "size": 100, "strokeWidth": 1.6, "color": "#2b2b2b", "opacity": 1},
      "encoding": {
        "shape": {
          "datum": "havainto-ennuste -parit",
          "scale": {
            "domain": ["havainto-ennuste -parit", "y = x", "regressiosuora"],
            "range": ["M-1,-1L1,1M-1,1L1,-1", "M-3.4,0L6.4,0", "M-3.4,0L6.4,0"]
          },
          "legend": {"title": null}
        },
        "strokeDash": {
          "datum": "havainto-ennuste -parit",
          "scale": {
            "domain": ["havainto-ennuste -parit", "y = x", "regressiosuora"],
            "range": [[1, 0], [1, 0], [6, 7]]
          },
          "legend": {"title": null}
        }
      }
    },
    {
      "data": {"name": "identity"},
      "mark": {"type": "line", "color": "#1a1a1a", "strokeWidth": 2.75},
      "encoding": {
        "strokeDash": {
          "datum": "y = x",
          "scale": {
            "domain": ["havainto-ennuste -parit", "y = x", "regressiosuora"],
            "range": [[1, 0], [1, 0], [6, 11]]
          },
          "legend": {"title": null}
        }
      }
    },
    {
      "data": {"name": "fit"},
      "mark": {"type": "line", "color": "#262626", "strokeWidth": 3.5},
      "encoding": {
        "strokeDash": {
          "datum": "regressiosuora",
          "scale": {
            "domain": ["havainto-ennuste -parit", "y = x", "regressiosuora"],
            "range": [[1, 0], [1, 0], [6, 11]]
          },
          "legend": {"title": null}
        }
      }
    },
    {
      "data": {"name": "fitLabel"},
      "mark": {"type": "text", "font": "Liberation Sans", "fontSize": 23, "color": "#1e1e1e", "align": "center", "baseline": "middle"},
      "encoding": {"text": {"field": "t"}}
    }
  ]
}
